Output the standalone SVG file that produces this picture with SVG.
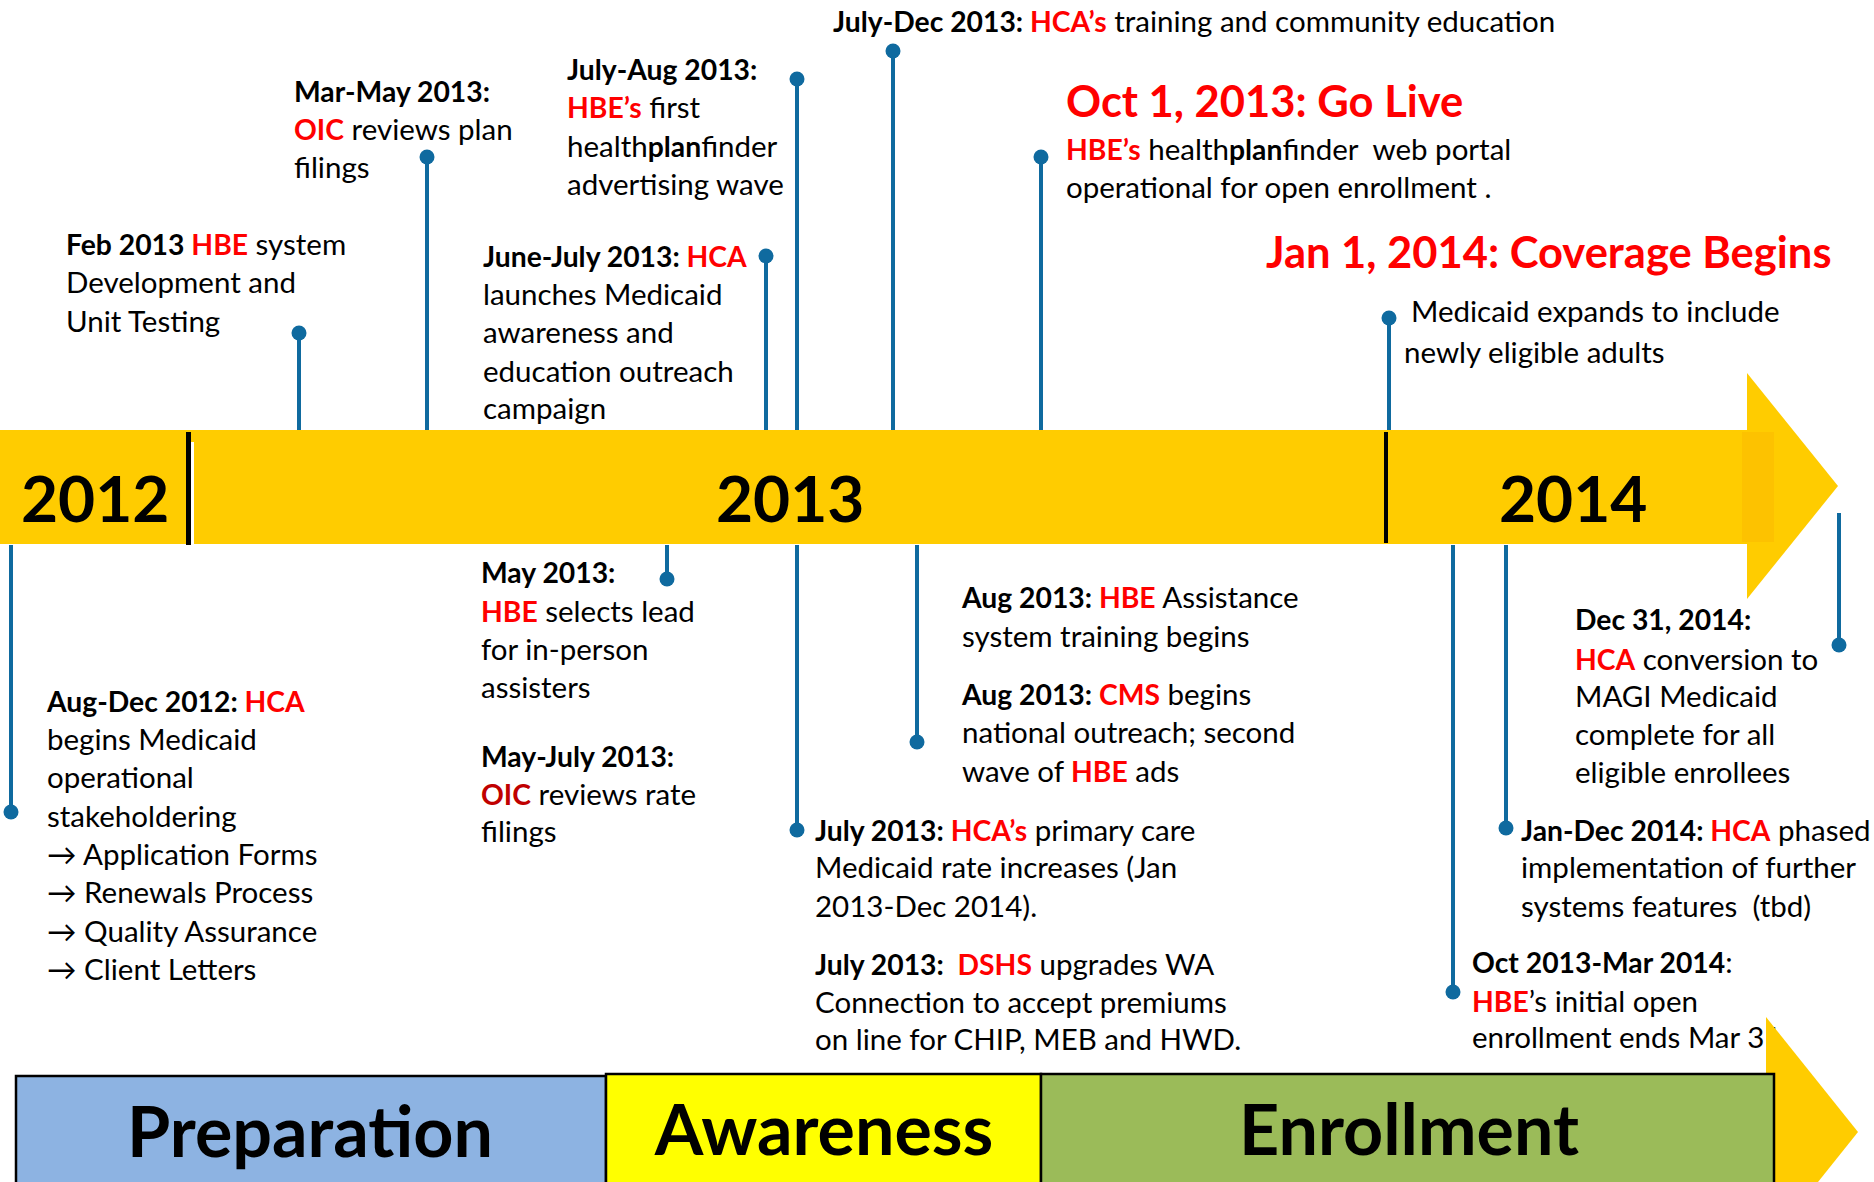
<svg xmlns="http://www.w3.org/2000/svg" width="1874" height="1182" viewBox="0 0 1874 1182">
<style>
text{font-family:Lato,"Open Sans","Liberation Sans",sans-serif;font-size:29.5px;fill:#000;white-space:pre}
.b{font-weight:700;font-size:28.3px}
.r{font-weight:700;font-size:28.3px;fill:#FF0000}
.dr{font-weight:700;font-size:28.3px;fill:#C00000}
.big{font-size:43.5px;font-weight:700;fill:#FF0000}
.yr{font-size:64px;font-weight:700}
.ph{font-size:70px;font-weight:700;text-anchor:middle}
.stem{stroke:#0F6A9F;stroke-width:4;fill:none}
.dot{fill:#0F6A9F}
</style>
<rect width="1874" height="1182" fill="#fff"/>

<g id="timeline-bar">
<rect x="0" y="430" width="1747" height="114" fill="#FFCC00"/>
<polygon points="1747,373 1838,486 1747,599" fill="#FFCC00"/>
<rect x="1742" y="432" width="32" height="110" fill="#FDC200"/>
<line x1="188.5" y1="432" x2="188.5" y2="545" stroke="#000" stroke-width="5"/>
<line x1="192.5" y1="442" x2="192.5" y2="545" stroke="#fff" stroke-width="3"/>
<line x1="1386" y1="432" x2="1386" y2="543" stroke="#000" stroke-width="4"/>
<text class="yr" x="21" y="522">2012</text>
<text class="yr" x="716" y="522">2013</text>
<text class="yr" x="1499" y="522">2014</text>
</g>

<g id="connectors">
<line class="stem" x1="299" y1="333" x2="299" y2="430"/><circle class="dot" cx="299" cy="333" r="7.5"/>
<line class="stem" x1="427" y1="157" x2="427" y2="430"/><circle class="dot" cx="427" cy="157" r="7.5"/>
<line class="stem" x1="766" y1="256" x2="766" y2="430"/><circle class="dot" cx="766" cy="256" r="7.5"/>
<line class="stem" x1="797" y1="79" x2="797" y2="430"/><circle class="dot" cx="797" cy="79" r="7.5"/>
<line class="stem" x1="893" y1="51" x2="893" y2="430"/><circle class="dot" cx="893" cy="51" r="7.5"/>
<line class="stem" x1="1041" y1="157" x2="1041" y2="430"/><circle class="dot" cx="1041" cy="157" r="7.5"/>
<line class="stem" x1="1389" y1="318" x2="1389" y2="430"/><circle class="dot" cx="1389" cy="318" r="7.5"/>
<line class="stem" x1="11" y1="545" x2="11" y2="812"/><circle class="dot" cx="11" cy="812" r="7.5"/>
<line class="stem" x1="667" y1="545" x2="667" y2="579"/><circle class="dot" cx="667" cy="579" r="7.5"/>
<line class="stem" x1="797" y1="545" x2="797" y2="830"/><circle class="dot" cx="797" cy="830" r="7.5"/>
<line class="stem" x1="917" y1="545" x2="917" y2="742"/><circle class="dot" cx="917" cy="742" r="7.5"/>
<line class="stem" x1="1453" y1="545" x2="1453" y2="992"/><circle class="dot" cx="1453" cy="992" r="7.5"/>
<line class="stem" x1="1506" y1="545" x2="1506" y2="828"/><circle class="dot" cx="1506" cy="828" r="7.5"/>
<line class="stem" x1="1839" y1="513" x2="1839" y2="645"/><circle class="dot" cx="1839" cy="645" r="7.5"/>
</g>

<g id="feb-2013">
<text x="66" y="255"><tspan class="b">Feb 2013 </tspan><tspan class="r">HBE</tspan> system</text>
<text x="66" y="293">Development and</text>
<text x="66" y="332">Unit Testing</text>
</g>

<g id="mar-may-2013">
<text x="294" y="102" class="b">Mar-May 2013:</text>
<text x="294" y="140"><tspan class="r">OIC</tspan> reviews plan</text>
<text x="294" y="178">filings</text>
</g>

<g id="june-july-2013">
<text x="483" y="267"><tspan class="b">June-July 2013: </tspan><tspan class="r">HCA</tspan></text>
<text x="483" y="305">launches Medicaid</text>
<text x="483" y="343">awareness and</text>
<text x="483" y="382">education outreach</text>
<text x="483" y="419">campaign</text>
</g>

<g id="july-aug-2013">
<text x="567" y="80" class="b">July-Aug 2013:</text>
<text x="567" y="118"><tspan class="r">HBE’s</tspan> first</text>
<text x="567" y="157">health<tspan class="b">plan</tspan>finder</text>
<text x="567" y="195">advertising wave</text>
</g>

<g id="july-dec-2013">
<text x="833" y="32"><tspan class="b">July-Dec 2013: </tspan><tspan class="r">HCA’s</tspan> training and community education</text>
</g>

<g id="oct-1-2013">
<text x="1066" y="117" class="big">Oct 1, 2013: Go Live</text>
<text x="1066" y="160"><tspan class="r">HBE’s</tspan> health<tspan class="b">plan</tspan>finder  web portal</text>
<text x="1066" y="198">operational for open enrollment .</text>
</g>

<g id="jan-1-2014">
<text x="1266" y="268" class="big">Jan 1, 2014: Coverage Begins</text>
<text x="1411" y="322">Medicaid expands to include</text>
<text x="1404" y="363">newly eligible adults</text>
</g>

<g id="aug-dec-2012">
<text x="47" y="712"><tspan class="b">Aug-Dec 2012: </tspan><tspan class="r">HCA</tspan></text>
<text x="47" y="750">begins Medicaid</text>
<text x="47" y="788">operational</text>
<text x="47" y="827">stakeholdering</text>
<text x="47" y="865">→ Application Forms</text>
<text x="47" y="903">→ Renewals Process</text>
<text x="47" y="942">→ Quality Assurance</text>
<text x="47" y="980">→ Client Letters</text>
</g>

<g id="may-2013">
<text x="481" y="583" class="b">May 2013:</text>
<text x="481" y="622"><tspan class="r">HBE</tspan> selects lead</text>
<text x="481" y="660">for in-person</text>
<text x="481" y="698">assisters</text>
</g>

<g id="may-july-2013">
<text x="481" y="767" class="b">May-July 2013:</text>
<text x="481" y="805"><tspan class="dr">OIC</tspan> reviews rate</text>
<text x="481" y="842">filings</text>
</g>

<g id="aug-2013-hbe">
<text x="962" y="608"><tspan class="b">Aug 2013: </tspan><tspan class="r">HBE</tspan> Assistance</text>
<text x="962" y="647">system training begins</text>
</g>

<g id="aug-2013-cms">
<text x="962" y="705"><tspan class="b">Aug 2013: </tspan><tspan class="r">CMS</tspan> begins</text>
<text x="962" y="743">national outreach; second</text>
<text x="962" y="782">wave of <tspan class="r">HBE</tspan> ads</text>
</g>

<g id="july-2013-hca">
<text x="815" y="841"><tspan class="b">July 2013: </tspan><tspan class="r">HCA’s</tspan> primary care</text>
<text x="815" y="878">Medicaid rate increases (Jan</text>
<text x="815" y="917">2013-Dec 2014).</text>
</g>

<g id="july-2013-dshs">
<text x="815" y="975"><tspan class="b">July 2013:  </tspan><tspan class="r">DSHS</tspan> upgrades WA</text>
<text x="815" y="1013">Connection to accept premiums</text>
<text x="815" y="1050">on line for CHIP, MEB and HWD.</text>
</g>

<g id="dec-31-2014">
<text x="1575" y="630" class="b">Dec 31, 2014:</text>
<text x="1575" y="670"><tspan class="r">HCA</tspan> conversion to</text>
<text x="1575" y="707">MAGI Medicaid</text>
<text x="1575" y="745">complete for all</text>
<text x="1575" y="783">eligible enrollees</text>
</g>

<g id="jan-dec-2014">
<text x="1521" y="841"><tspan class="b">Jan-Dec 2014: </tspan><tspan class="r">HCA</tspan> phased</text>
<text x="1521" y="878">implementation of further</text>
<text x="1521" y="917">systems features  (tbd)</text>
</g>

<g id="oct-2013-mar-2014">
<text x="1472" y="973"><tspan class="b">Oct 2013-Mar 2014</tspan>:</text>
<text x="1472" y="1012"><tspan class="r">HBE</tspan>’s initial open</text>
<text x="1472" y="1048">enrollment ends Mar 31</text>
</g>

<g id="phases">
<polygon points="1766,1017 1858,1132 1766,1247" fill="#FFCC00"/>
<g id="preparation"><rect x="16" y="1076" width="590" height="120" fill="#8DB3E2" stroke="#000" stroke-width="2.5"/><text class="ph" x="310" y="1157">Preparation</text></g>
<g id="awareness"><rect x="606" y="1074" width="435" height="122" fill="#FFFF00" stroke="#000" stroke-width="2.5"/><text class="ph" x="824" y="1155">Awareness</text></g>
<g id="enrollment"><rect x="1041" y="1074" width="733" height="122" fill="#9BBB59" stroke="#000" stroke-width="2.5"/><text class="ph" x="1409" y="1155">Enrollment</text></g>
</g>
</svg>
